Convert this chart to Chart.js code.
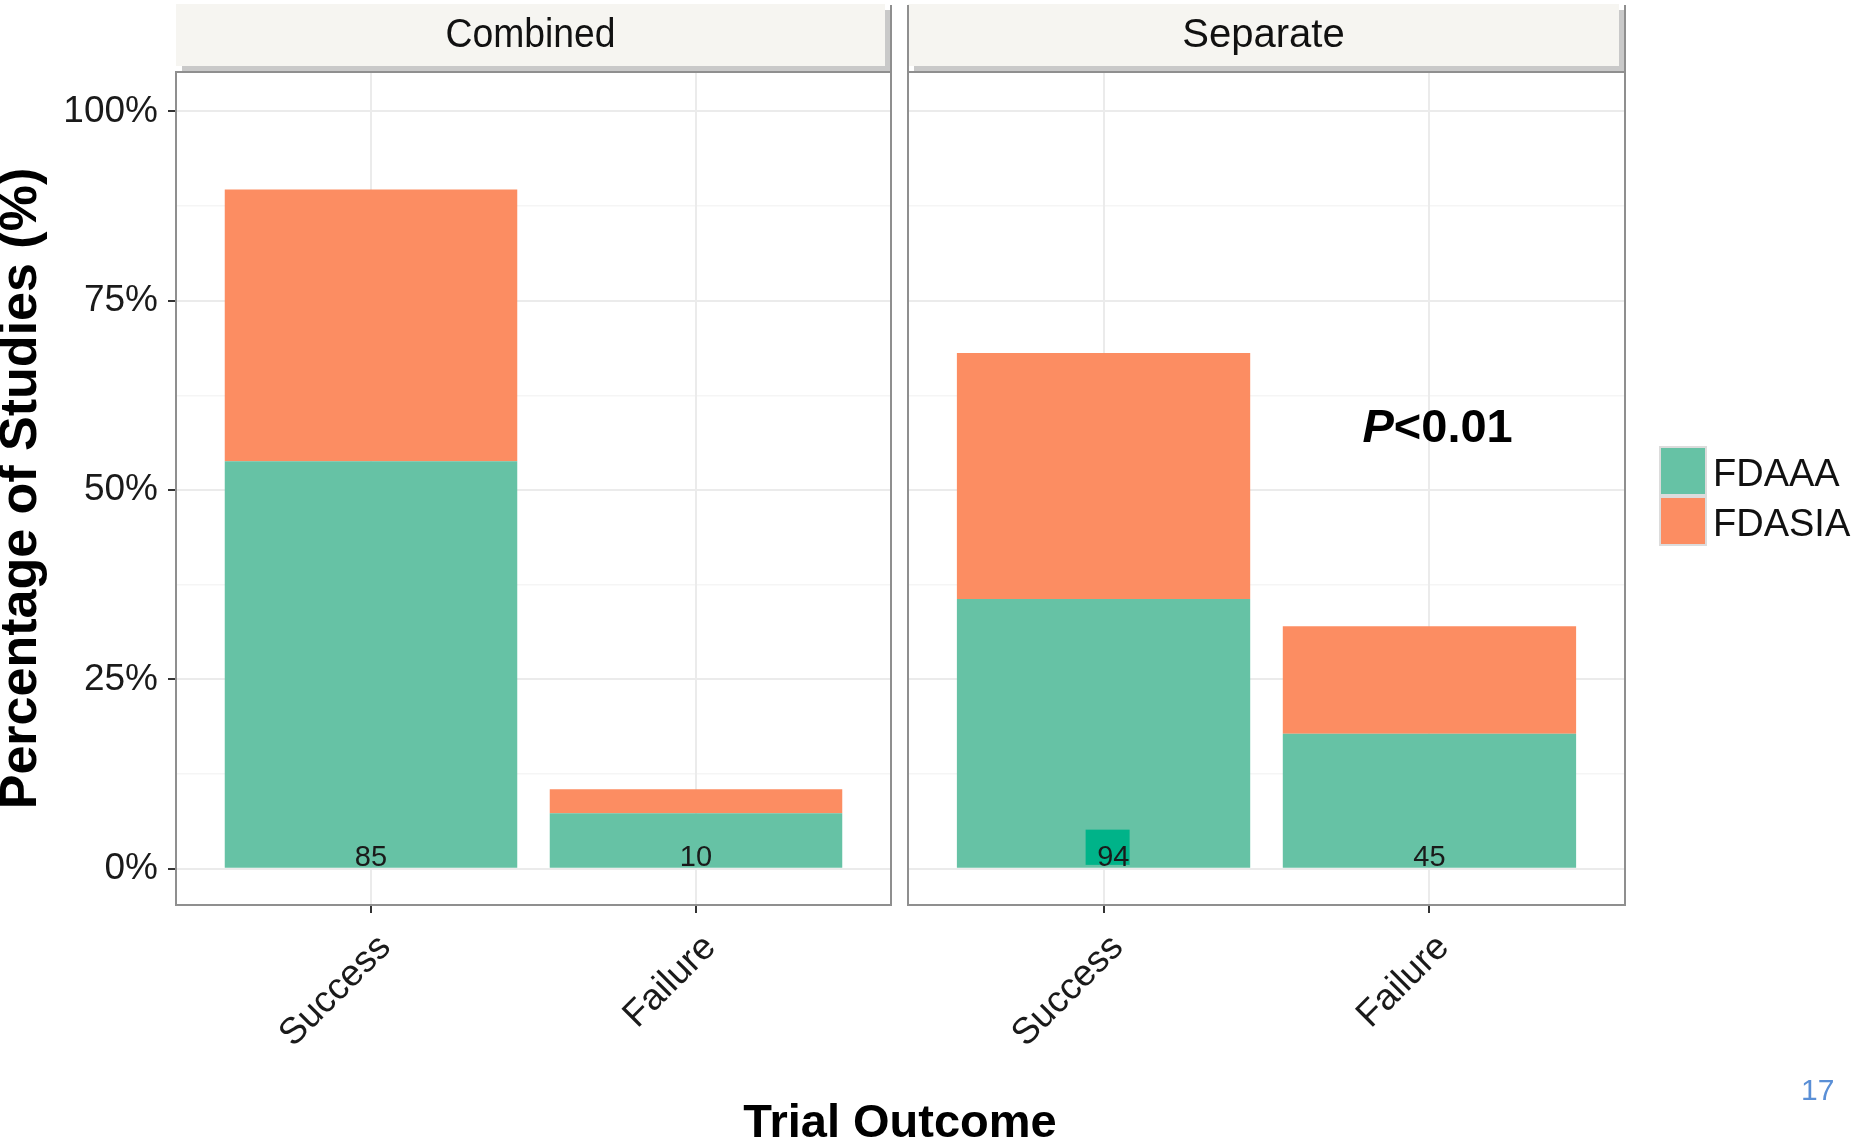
<!DOCTYPE html>
<html>
<head>
<meta charset="utf-8">
<script src="https://cdn.jsdelivr.net/npm/chart.js@4.4.0/dist/chart.umd.min.js"></script>
<style>
  html, body { margin: 0; padding: 0; background: #fff; }
  body { width: 1854px; height: 1145px; position: relative; overflow: hidden; font-family: 'Liberation Sans', Arial, sans-serif; }
  canvas { position: absolute; top: 0; }
  #chart-combined { left: 0; }
  #chart-separate { left: 900px; }
  #legend { position: absolute; left: 1659px; top: 446px; }
  .key-row { display: flex; align-items: center; height: 50px; }
  .key { width: 48px; height: 50px; box-sizing: border-box; border: 2px solid #dcdcdc; }
  .key-label { margin-left: 6px; font-size: 38px; color: #111; position: relative; top: 2px; }
  #x-title { position: absolute; left: 600px; width: 600px; top: 1097px; text-align: center; font-size: 47px; line-height: 47px; font-weight: bold; color: #000; }
  #page-num { position: absolute; left: 1801px; top: 1075px; font-size: 30px; line-height: 30px; color: #5a8fd6; }
</style>
</head>
<body>
<canvas id="chart-combined" width="900" height="1145"></canvas>
<canvas id="chart-separate" width="954" height="1145"></canvas>
<div id="legend"></div>
<div id="x-title">Trial Outcome</div>
<div id="page-num">17</div>
<script>
const categories = ['Success', 'Failure'];
const seriesNames = ['FDAAA', 'FDASIA'];
const seriesColors = ['#66c2a5', '#fc8d62'];

// percent of studies
const combinedFDAAA = [53.8, 7.3];
const combinedFDASIA = [35.9, 3.2];
const separateFDAAA = [35.6, 17.8];
const separateFDASIA = [32.5, 14.2];

// n printed at the foot of each bar
const combinedCounts = [85, 10];
const separateCounts = [94, 45];

const yTicks = [0, 25, 50, 75, 100];
const yMinorTicks = [12.5, 37.5, 62.5, 87.5];
const Y_MIN = -4.8, Y_MAX = 105.2;

const FONT = "'Liberation Sans', Arial, sans-serif";

function facetPlugin(panelName, counts, extras) {
  return {
    id: 'facet',
    afterDatasetsDraw(chart) {
      const { ctx } = chart;
      const xs = chart.scales.x;
      const ys = chart.scales.y;

      // pasted-over label patch (separate panel)
      if (extras.patch) {
        const p = extras.patch;
        const px0 = xs.getPixelForValue(p.index + p.x0);
        const px1 = xs.getPixelForValue(p.index + p.x1);
        const py0 = ys.getPixelForValue(p.y0);
        const py1 = ys.getPixelForValue(p.y1);
        ctx.save();
        ctx.fillStyle = p.color;
        ctx.fillRect(px0, py1, px1 - px0, py0 - py1);
        ctx.restore();
      }

      ctx.save();
      ctx.font = `29px ${FONT}`;
      ctx.fillStyle = '#1a1a1a';
      ctx.textAlign = 'center';
      ctx.textBaseline = 'alphabetic';
      counts.forEach((n, i) => {
        let xv = i;
        if (extras.patch && extras.patch.index === i) xv += extras.patch.labelShift;
        ctx.fillText(String(n), xs.getPixelForValue(xv), ys.getPixelForValue(0) - 3);
      });
      ctx.restore();

      if (extras.pValue) {
        const pv = extras.pValue;
        const cx = xs.getPixelForValue(pv.x);
        const cy = ys.getPixelForValue(pv.y);
        ctx.save();
        ctx.fillStyle = '#000';
        ctx.textBaseline = 'middle';
        ctx.textAlign = 'left';
        const fItal = `italic bold 47px ${FONT}`;
        const fBold = `bold 47px ${FONT}`;
        ctx.font = fItal;
        const w1 = ctx.measureText('P').width;
        ctx.font = fBold;
        const w2 = ctx.measureText(pv.rest).width;
        const sx = cx - (w1 + w2) / 2;
        ctx.font = fItal;
        ctx.fillText('P', sx, cy);
        ctx.font = fBold;
        ctx.fillText(pv.rest, sx + w1, cy);
        ctx.restore();
      }
    },
    afterDraw(chart) {
      const { ctx } = chart;
      const { left, right, top, bottom } = chart.chartArea;
      const stripTop = 4, stripBottom = 66;
      ctx.save();
      // strip with its shadow
      ctx.fillStyle = '#c9c9c9';
      ctx.fillRect(left + 6, stripTop + 6, right - left - 6, stripBottom - stripTop);
      ctx.fillStyle = '#f6f5f1';
      ctx.fillRect(left, stripTop, right - left - 6, stripBottom - stripTop);
      ctx.font = `40px ${FONT}`;
      ctx.fillStyle = '#111';
      ctx.textAlign = 'center';
      ctx.textBaseline = 'middle';
      ctx.fillText(panelName, (left + right - 6) / 2, (stripTop + stripBottom) / 2 + 1, 170);

      // panel border
      ctx.strokeStyle = '#8f8f8f';
      ctx.lineWidth = 2;
      ctx.strokeRect(left, top, right - left, bottom - top);
      ctx.beginPath();
      ctx.moveTo(right, stripTop + 1);
      ctx.lineTo(right, top);
      if (extras.leftLineUp) {
        ctx.moveTo(left, stripTop + 1);
        ctx.lineTo(left, top);
      }
      ctx.stroke();
      ctx.restore();
    }
  };
}

function makePanel(canvasId, panelName, fdaaa, fdasia, counts, showY, padding, extras) {
  const toPoints = arr => arr.map((v, i) => ({ x: i, y: v }));
  return new Chart(document.getElementById(canvasId), {
    type: 'bar',
    data: {
      datasets: [
        { label: seriesNames[0], data: toPoints(fdaaa), backgroundColor: seriesColors[0], xAxisID: 'x', yAxisID: 'y' },
        { label: seriesNames[1], data: toPoints(fdasia), backgroundColor: seriesColors[1], xAxisID: 'x', yAxisID: 'y' }
      ]
    },
    options: {
      responsive: false,
      animation: false,
      devicePixelRatio: 1,
      layout: { padding },
      datasets: { bar: { categoryPercentage: 1, barPercentage: 0.9, borderWidth: 0 } },
      plugins: { legend: { display: false }, tooltip: { enabled: false }, title: { display: false } },
      scales: {
        y: {
          type: 'linear',
          position: 'left',
          min: Y_MIN,
          max: Y_MAX,
          stacked: true,
          afterBuildTicks: s => { s.ticks = yTicks.map(v => ({ value: v })); },
          afterFit: s => { s.width = showY ? 176 : 0; },
          grid: { color: '#ebebeb', lineWidth: 2, tickColor: '#333', tickLength: 8, drawTicks: showY },
          border: { display: false },
          ticks: {
            display: showY,
            padding: 10,
            color: '#1a1a1a',
            font: { family: FONT, size: 37 },
            callback: v => v + '%'
          },
          title: {
            display: showY,
            text: 'Percentage of Studies (%)',
            color: '#000',
            padding: 0,
            font: { family: FONT, size: 52, weight: 'bold', lineHeight: 0.85 }
          }
        },
        yMinor: {
          type: 'linear',
          position: 'left',
          min: Y_MIN,
          max: Y_MAX,
          afterBuildTicks: s => { s.ticks = yMinorTicks.map(v => ({ value: v })); },
          afterFit: s => { s.width = 0; },
          grid: { color: '#f5f5f5', lineWidth: 1.5, drawTicks: false },
          border: { display: false },
          ticks: { display: false }
        },
        x: {
          type: 'linear',
          min: -0.6,
          max: 1.6,
          stacked: true,
          offset: false,
          afterBuildTicks: s => { s.ticks = categories.map((c, i) => ({ value: i })); },
          afterFit: s => { s.height = 240; },
          grid: { offset: false, color: '#ebebeb', lineWidth: 2, tickColor: '#333', tickLength: 8 },
          border: { display: false },
          ticks: {
            autoSkip: false,
            minRotation: 45,
            maxRotation: 45,
            padding: 13,
            labelOffset: 14,
            color: '#1a1a1a',
            font: { family: FONT, size: 37 },
            callback: v => categories[v]
          }
        }
      }
    },
    plugins: [facetPlugin(panelName, counts, extras)]
  });
}

makePanel('chart-combined', 'Combined', combinedFDAAA, combinedFDASIA, combinedCounts, true,
  { left: 0, right: 9, top: 72, bottom: 0 }, {});

makePanel('chart-separate', 'Separate', separateFDAAA, separateFDASIA, separateCounts, false,
  { left: 8, right: 229, top: 72, bottom: 0 },
  {
    leftLineUp: true,
    patch: { index: 0, x0: -0.055, x1: 0.08, y0: 0.5, y1: 5.15, color: '#00b389', labelShift: 0.03 },
    pValue: { x: 1.025, y: 58.0, rest: '<0.01' }
  });

// legend
const legend = document.getElementById('legend');
legend.innerHTML = seriesNames.map((name, i) =>
  `<div class="key-row"><div class="key" style="background:${seriesColors[i]}"></div><span class="key-label">${name}</span></div>`
).join('');
</script>
</body>
</html>
